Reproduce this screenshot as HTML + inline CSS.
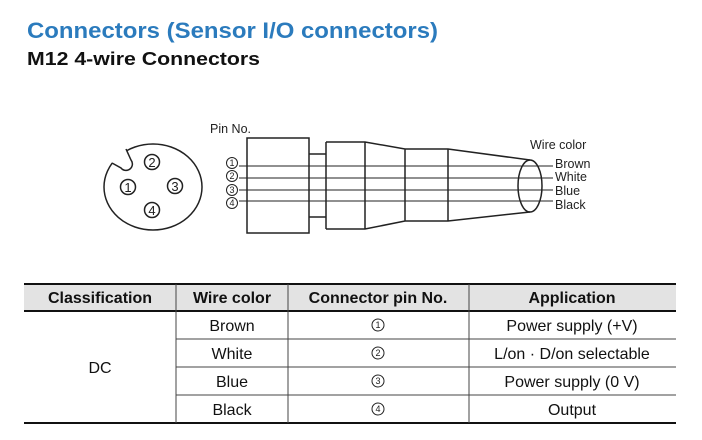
<!DOCTYPE html>
<html><head><style>
body{margin:0;background:#fff;}
svg{display:block;font-family:"Liberation Sans","DejaVu Sans",sans-serif;}
</style></head><body>
<svg width="702" height="440" viewBox="0 0 702 440" xmlns="http://www.w3.org/2000/svg">
<text x="27" y="38" font-size="22" font-weight="bold" fill="#2b7bbd" textLength="411" lengthAdjust="spacingAndGlyphs">Connectors (Sensor I/O connectors)</text>
<text x="27" y="65" font-size="18" font-weight="bold" fill="#111" textLength="233" lengthAdjust="spacingAndGlyphs">M12 4-wire Connectors</text>

<g fill="none" stroke="#222" stroke-width="1.5">
<ellipse cx="153" cy="187" rx="49" ry="43"/>
<path d="M109,161 L121,168 A5,5 0 0 0 131,160 L125,145 Z" fill="#fff" stroke="none"/>
<path d="M112,163 L121,168 A5,5 0 0 0 131,160 L126,149"/>
<circle cx="152" cy="162" r="7.5"/>
<circle cx="128" cy="187" r="7.5"/>
<circle cx="175" cy="186" r="7.5"/>
<circle cx="152" cy="210" r="7.5"/>
<rect x="247" y="138" width="62" height="95"/>
<path d="M309,154 H326 M309,217 H326"/>
<path d="M326,142 H365 L405,149 H448 L530,160 M326,229 H365 L405,221 H448 L530,212 M326,142 V229 M365,142 V229 M405,149 V221 M448,149 V221"/>
<ellipse cx="530" cy="186" rx="12" ry="26"/>
</g>
<g stroke="#222" stroke-width="1">
<line x1="239" y1="166" x2="553" y2="166"/>
<line x1="239" y1="178" x2="553" y2="178"/>
<line x1="239" y1="190" x2="553" y2="190"/>
<line x1="239" y1="201" x2="553" y2="201"/>
</g>
<g font-size="13" fill="#222" text-anchor="middle">
<text x="152" y="167">2</text><text x="128" y="192">1</text><text x="175" y="191">3</text><text x="152" y="215">4</text>
</g>
<g fill="none" stroke="#222" stroke-width="1">
<circle cx="232" cy="163" r="5.5"/><circle cx="232" cy="176" r="5.5"/><circle cx="232" cy="190" r="5.5"/><circle cx="232" cy="203" r="5.5"/>
</g>
<g font-size="9" fill="#222" text-anchor="middle">
<text x="232" y="166">1</text><text x="232" y="179">2</text><text x="232" y="193">3</text><text x="232" y="206">4</text>
</g>
<g font-size="12.5" fill="#222">
<text x="210" y="133">Pin No.</text>
<text x="530" y="149">Wire color</text>
<text x="555" y="168">Brown</text>
<text x="555" y="181">White</text>
<text x="555" y="195">Blue</text>
<text x="555" y="209">Black</text>
</g>

<rect x="24" y="284" width="652" height="27" fill="#e3e3e3"/>
<line x1="24" y1="284" x2="676" y2="284" stroke="#111" stroke-width="2"/>
<line x1="24" y1="311" x2="676" y2="311" stroke="#111" stroke-width="2"/>
<line x1="24" y1="423" x2="676" y2="423" stroke="#111" stroke-width="2"/>
<g stroke="#444" stroke-width="1">
<line x1="176" y1="284" x2="176" y2="423"/>
<line x1="288" y1="284" x2="288" y2="423"/>
<line x1="469" y1="284" x2="469" y2="423"/>
<line x1="176" y1="339" x2="676" y2="339"/>
<line x1="176" y1="367" x2="676" y2="367"/>
<line x1="176" y1="395" x2="676" y2="395"/>
</g>
<g font-size="16" font-weight="bold" fill="#111" text-anchor="middle">
<text x="100" y="303">Classification</text>
<text x="232" y="303">Wire color</text>
<text x="378" y="303">Connector pin No.</text>
<text x="572" y="303">Application</text>
</g>
<g font-size="16" fill="#111" text-anchor="middle">
<text x="100" y="373">DC</text>
<text x="232" y="331">Brown</text><text x="232" y="359">White</text><text x="232" y="387">Blue</text><text x="232" y="415">Black</text>
<text x="572" y="331">Power supply (+V)</text>
<text x="572" y="359">L/on · D/on selectable</text>
<text x="572" y="387">Power supply (0 V)</text>
<text x="572" y="415">Output</text>
</g>
<g fill="none" stroke="#222" stroke-width="1">
<circle cx="378" cy="325" r="6"/><circle cx="378" cy="353" r="6"/><circle cx="378" cy="381" r="6"/><circle cx="378" cy="409" r="6"/>
</g>
<g font-size="9" fill="#222" text-anchor="middle">
<text x="378" y="328">1</text><text x="378" y="356">2</text><text x="378" y="384">3</text><text x="378" y="412">4</text>
</g>
</svg>
</body></html>
